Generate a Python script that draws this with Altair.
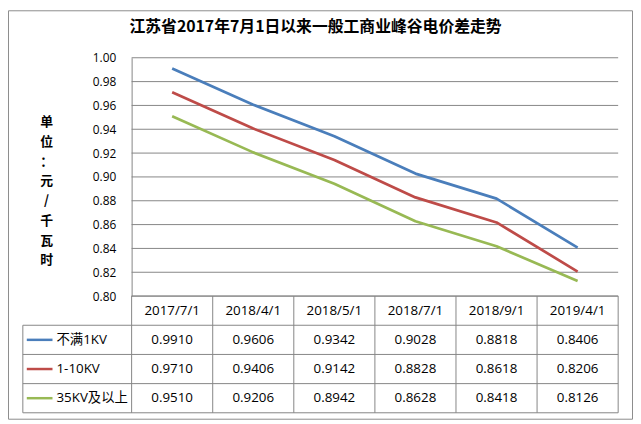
import altair as alt
import pandas as pd

# ---------------- data ----------------
dates = ["2017/7/1", "2018/4/1", "2018/5/1", "2018/7/1", "2018/9/1", "2019/4/1"]
series_names = ["不满1KV", "1-10KV", "35KV及以上"]
s_lt1kv = [0.9910, 0.9606, 0.9342, 0.9028, 0.8818, 0.8406]
s_1_10kv = [0.9710, 0.9406, 0.9142, 0.8828, 0.8618, 0.8206]
s_35kv = [0.9510, 0.9206, 0.8942, 0.8628, 0.8418, 0.8126]
y_ticks = [0.80, 0.82, 0.84, 0.86, 0.88, 0.90, 0.92, 0.94, 0.96, 0.98, 1.00]
title_text = "江苏省2017年7月1日以来一般工商业峰谷电价差走势"
y_title = "单\n位\n：\n元\n/\n千\n瓦\n时"
colors = ["#4A7EBB", "#BE4B48", "#98B954"]

series_values = [s_lt1kv, s_1_10kv, s_35kv]

# ---------------- layout helpers ----------------
COL = 82          # width of one data-table column (px)
LAB = 110         # width of the label column of the data table (px)
W = LAB + 6 * COL # plot area width
H = 359
XMIN = -LAB / COL
GRID = "#868686"
NUM_FONT = "Open Sans, Noto Sans CJK SC, sans-serif"
CJK_BOLD = "Noto Sans CJK SC, sans-serif"

xs = alt.Scale(domain=[XMIN, 6], nice=False, zero=False)
ys = alt.Scale(domain=[0.8, 1.0], range=[241, 0], nice=False, zero=False)
ts = alt.Scale(domain=[0, 4], range=[241, 359], nice=False, zero=False)
cs = alt.Scale(domain=series_names, range=colors)

# long table for the lines
rows = []
for name, vals in zip(series_names, series_values):
    for i, (d, v) in enumerate(zip(dates, vals)):
        rows.append({"series": name, "date": d, "pos": i + 0.5, "v": v})
line_df = pd.DataFrame(rows)

grid_df = pd.DataFrame({"t": y_ticks, "x0": 0, "x1": 6})

# table cells
cells = []
for i, d in enumerate(dates):
    cells.append({"x": i + 0.5, "ty": 0.5, "label": d})
for r, vals in enumerate(series_values):
    for i, v in enumerate(vals):
        cells.append({"x": i + 0.5, "ty": r + 1.5, "label": f"{v:.4f}"})
cell_df = pd.DataFrame(cells)

key_df = pd.DataFrame({"series": series_names, "ty": [1.5, 2.5, 3.5]})

hl = [{"ty": 0, "xa": 0, "xb": 6}] + [{"ty": k, "xa": XMIN, "xb": 6} for k in [1, 2, 3, 4]]
hline_df = pd.DataFrame(hl)
vl = [{"x": k, "ya": 0, "yb": 4} for k in range(7)] + [{"x": XMIN, "ya": 1, "yb": 4}]
vline_df = pd.DataFrame(vl)

one = pd.DataFrame({"title": [title_text], "ytitle": [y_title]})

# ---------------- layers ----------------
frame = alt.Chart(one).mark_rect(filled=False, stroke="#8C8C8C", strokeWidth=1).encode(
    x=alt.value(-14.5), x2=alt.value(616.5), y=alt.value(-47.5), y2=alt.value(365.5)
)

grid = alt.Chart(grid_df).mark_rule(color=GRID, strokeWidth=1).encode(
    x=alt.X("x0:Q", scale=xs, axis=None),
    x2="x1:Q",
    y=alt.Y(
        "t:Q",
        scale=ys,
        axis=alt.Axis(
            values=y_ticks, format=".2f", offset=-LAB, ticks=False, grid=False,
            domainColor=GRID, labelFontSize=12, labelColor="#000000",
            labelFont=NUM_FONT, labelPadding=16, title=None,
        ),
    ),
)

hlines = alt.Chart(hline_df).mark_rule(color=GRID, strokeWidth=1).encode(
    x=alt.X("xa:Q", scale=xs, axis=None), x2="xb:Q",
    y=alt.Y("ty:Q", scale=ts, axis=None),
)
vlines = alt.Chart(vline_df).mark_rule(color=GRID, strokeWidth=1).encode(
    x=alt.X("x:Q", scale=xs, axis=None),
    y=alt.Y("ya:Q", scale=ts, axis=None), y2="yb:Q",
)

lines = alt.Chart(line_df).mark_line(strokeWidth=2.75, strokeJoin="round").encode(
    x=alt.X("pos:Q", scale=xs, axis=None),
    y=alt.Y("v:Q", scale=ys, axis=None),
    color=alt.Color("series:N", scale=cs, legend=None),
    detail="series:N",
)

cell_text = alt.Chart(cell_df).mark_text(
    fontSize=13.5, font=NUM_FONT, color="#000000", align="center", baseline="middle"
).encode(
    x=alt.X("x:Q", scale=xs, axis=None),
    y=alt.Y("ty:Q", scale=ts, axis=None),
    text="label:N",
)

keys = alt.Chart(key_df).mark_rule(strokeWidth=2.5).encode(
    x=alt.value(4), x2=alt.value(30),
    y=alt.Y("ty:Q", scale=ts, axis=None),
    color=alt.Color("series:N", scale=cs, legend=None),
)
key_text = alt.Chart(key_df).mark_text(
    fontSize=13.5, font=NUM_FONT, color="#000000", align="left", baseline="middle"
).encode(
    x=alt.value(34),
    y=alt.Y("ty:Q", scale=ts, axis=None),
    text="series:N",
)

title = alt.Chart(one).mark_text(
    fontSize=16, fontWeight="bold", font=CJK_BOLD, color="#000000",
    align="center", baseline="middle",
).encode(x=alt.value(296), y=alt.value(-31.5), text="title:N")

ytitle = alt.Chart(one).mark_text(
    fontSize=13, fontWeight="bold", font=CJK_BOLD, color="#000000",
    align="center", baseline="middle", lineBreak="\n", lineHeight=20,
).encode(x=alt.value(24), y=alt.value(65), text="ytitle:N")

chart = (
    alt.layer(frame, grid, hlines, vlines, lines, keys, cell_text, key_text, title, ytitle)
    .resolve_scale(y="independent")
    .properties(
        width=W, height=H,
        autosize=alt.AutoSizeParams(type="none"),
        padding={"left": 15, "top": 48, "right": 15, "bottom": 7},
        background="#FFFFFF",
    )
    .configure_view(stroke=None)
)

chart.save("out.html", embed_options={"renderer": "svg", "actions": False})
